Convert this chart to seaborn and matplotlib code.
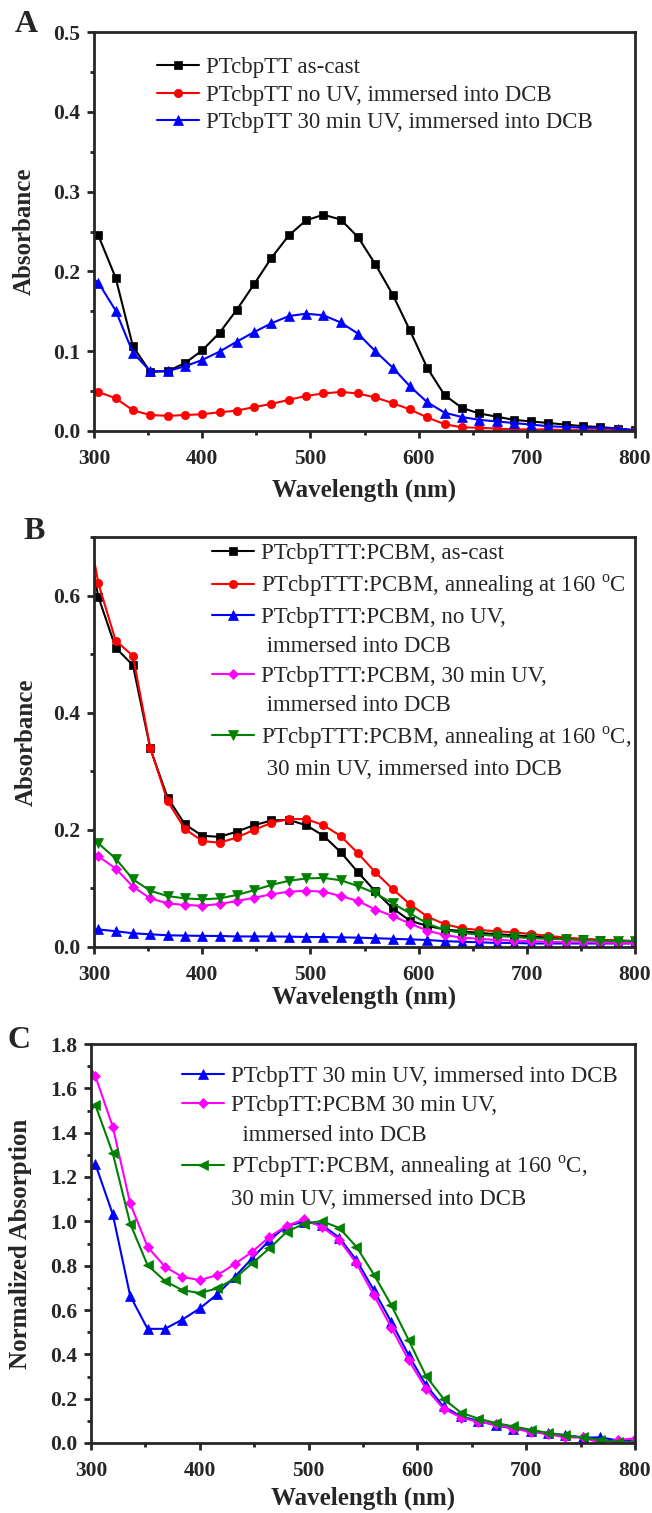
import matplotlib
matplotlib.use("Agg")
import matplotlib.pyplot as plt
import seaborn as sns
from matplotlib.lines import Line2D
from matplotlib.ticker import MultipleLocator, FormatStrFormatter

# ---------------- data ----------------
wavelength = [300, 304, 320, 336, 352, 368, 384, 400, 416, 432, 448, 464, 480, 496, 512,
              528, 544, 560, 576, 592, 608, 624, 640, 656, 672, 688, 704, 720, 736, 752,
              768, 784, 800]

# Panel A
A_ascast = [0.250, 0.245, 0.192, 0.106, 0.074, 0.075, 0.085, 0.101, 0.123, 0.152, 0.184,
            0.217, 0.245, 0.264, 0.271, 0.265, 0.243, 0.209, 0.171, 0.126, 0.079, 0.045,
            0.029, 0.022, 0.018, 0.014, 0.012, 0.010, 0.008, 0.006, 0.005, 0.003, 0.001]
A_noUV = [0.050, 0.049, 0.041, 0.026, 0.020, 0.019, 0.020, 0.021, 0.0235, 0.0255, 0.030,
          0.034, 0.039, 0.044, 0.047, 0.049, 0.047, 0.042, 0.035, 0.027, 0.017, 0.0085,
          0.0046, 0.004, 0.003, 0.002, 0.002, 0.002, 0.001, 0.001, 0.001, 0.001, 0.000]
A_UV30 = [0.190, 0.186, 0.151, 0.098, 0.075, 0.075, 0.081, 0.089, 0.0995, 0.112, 0.124,
          0.135, 0.144, 0.147, 0.145, 0.136, 0.122, 0.100, 0.0795, 0.056, 0.036, 0.023,
          0.0175, 0.014, 0.012, 0.010, 0.008, 0.006, 0.005, 0.004, 0.004, 0.003, 0.001]
A_labels = [["PTcbpTT as-cast"],
            ["PTcbpTT no UV, immersed into DCB"],
            ["PTcbpTT 30 min UV, immersed into DCB"]]

# Panel B
B_ascast = [0.635, 0.598, 0.511, 0.481, 0.339, 0.255, 0.2095, 0.190, 0.188, 0.197, 0.208,
            0.216, 0.217, 0.208, 0.190, 0.162, 0.1275, 0.095, 0.066, 0.045, 0.036, 0.030,
            0.027, 0.024, 0.022, 0.020, 0.018, 0.016, 0.014, 0.013, 0.012, 0.011, 0.010]
B_anneal = [0.662, 0.621, 0.523, 0.497, 0.340, 0.249, 0.2015, 0.181, 0.178, 0.187, 0.200,
            0.212, 0.2185, 0.2185, 0.208, 0.1895, 0.160, 0.1275, 0.099, 0.073, 0.052, 0.039,
            0.032, 0.029, 0.027, 0.025, 0.022, 0.019, 0.016, 0.014, 0.012, 0.011, 0.010]
B_noUV = [0.031, 0.030, 0.027, 0.0234, 0.0217, 0.020, 0.0194, 0.019, 0.0188, 0.018, 0.018,
          0.018, 0.0177, 0.017, 0.017, 0.0165, 0.016, 0.015, 0.014, 0.013, 0.012, 0.010,
          0.009, 0.008, 0.007, 0.007, 0.006, 0.006, 0.006, 0.006, 0.006, 0.006, 0.006]
B_UV30 = [0.160, 0.155, 0.134, 0.103, 0.083, 0.0746, 0.0717, 0.0705, 0.0734, 0.0785, 0.084,
          0.090, 0.0945, 0.096, 0.0945, 0.087, 0.0785, 0.064, 0.053, 0.040, 0.028, 0.0205,
          0.016, 0.014, 0.012, 0.011, 0.010, 0.009, 0.008, 0.008, 0.008, 0.007, 0.007]
B_annealUV = [0.180, 0.177, 0.151, 0.1155, 0.096, 0.087, 0.083, 0.0814, 0.083, 0.0888, 0.097,
              0.106, 0.113, 0.117, 0.118, 0.114, 0.104, 0.0917, 0.0746, 0.0575, 0.040, 0.029,
              0.024, 0.021, 0.019, 0.017, 0.015, 0.014, 0.013, 0.012, 0.011, 0.010, 0.010]
B_labels = [["PTcbpTTT:PCBM, as-cast"],
            [r"PTcbpTTT:PCBM, annealing at 160 $^{\rm o}$C"],
            ["PTcbpTTT:PCBM, no UV,", " immersed into DCB"],
            ["PTcbpTTT:PCBM, 30 min UV,", " immersed into DCB"],
            [r"PTcbpTTT:PCBM, annealing at 160 $^{\rm o}$C,", " 30 min UV, immersed into DCB"]]

# Panel C
C_film = [1.24, 1.258, 1.032, 0.664, 0.515, 0.515, 0.557, 0.607, 0.671, 0.749, 0.8325,
          0.915, 0.980, 0.998, 0.985, 0.927, 0.825, 0.689, 0.546, 0.396, 0.260, 0.165,
          0.12, 0.10, 0.08, 0.065, 0.055, 0.045, 0.035, 0.025, 0.025, 0.012, 0.010]
C_blend = [1.69, 1.655, 1.427, 1.081, 0.885, 0.795, 0.749, 0.735, 0.757, 0.807, 0.862,
           0.930, 0.980, 1.009, 0.975, 0.918, 0.810, 0.667, 0.521, 0.373, 0.245, 0.155,
           0.115, 0.095, 0.084, 0.065, 0.050, 0.040, 0.025, 0.025, 0.000, 0.015, 0.020]
C_anneal = [1.50, 1.525, 1.307, 0.990, 0.802, 0.731, 0.689, 0.677, 0.697, 0.742, 0.810,
            0.878, 0.953, 0.990, 1.001, 0.971, 0.885, 0.760, 0.622, 0.464, 0.301, 0.200,
            0.137, 0.110, 0.090, 0.075, 0.060, 0.045, 0.035, 0.025, 0.015, 0.005, 0.005]
C_labels = [["PTcbpTT 30 min UV, immersed into DCB"],
            ["PTcbpTT:PCBM 30 min UV,", "  immersed into DCB"],
            [r"PTcbpTT:PCBM, annealing at 160 $^{\rm o}$C,", "30 min UV, immersed into DCB"]]

xticks = [300, 400, 500, 600, 700, 800]

# ---------------- style ----------------
sns.set_theme(style="ticks")
plt.rcParams["font.family"] = ["Liberation Serif", "DejaVu Serif"]
plt.rcParams["mathtext.fontset"] = "custom"
plt.rcParams["mathtext.rm"] = "Liberation Serif"
plt.rcParams["axes.linewidth"] = 2.0

W, H = 652, 1513
fig = plt.figure(figsize=(W / 100, H / 100), dpi=100)


def ax_rect(l, r, t, b):
    return [l / W, 1 - b / H, (r - l) / W, (b - t) / H]


axA = fig.add_axes(ax_rect(94, 635, 32, 431))
axB = fig.add_axes(ax_rect(94, 635, 537, 947))
axC = fig.add_axes(ax_rect(91, 635, 1044, 1443))

LW = 1.5
MS = 6


def draw(ax, ys, colors, markers, sizes, labels):
    for y, c, m, s, lab in zip(ys, colors, markers, sizes, labels):
        sns.lineplot(x=wavelength, y=y, ax=ax, color=c, marker=m, markersize=s,
                     markeredgecolor=c, markeredgewidth=0.5, linewidth=LW,
                     markevery=list(range(1, len(wavelength))), label=lab[0])


def style(ax, ylim, ymaj, ymin, xlabel_y, ylabel_x, ylabel):
    ax.set_xlim(300, 800)
    ax.set_ylim(*ylim)
    ax.set_xticks(xticks)
    ax.xaxis.set_minor_locator(MultipleLocator(50))
    ax.yaxis.set_major_locator(MultipleLocator(ymaj))
    ax.yaxis.set_minor_locator(MultipleLocator(ymin))
    ax.yaxis.set_major_formatter(FormatStrFormatter("%.1f"))
    ax.tick_params(which="major", direction="out", length=5, width=2,
                   labelsize=15.5, top=False, right=False)
    ax.tick_params(which="minor", direction="out", length=3, width=2,
                   top=False, right=False)
    ax.tick_params(axis="x", which="major", pad=8)
    ax.tick_params(axis="y", which="major", pad=5)
    for lab in ax.get_xticklabels() + ax.get_yticklabels():
        lab.set_fontweight("bold")
    for sp in ax.spines.values():
        sp.set_visible(True)
        sp.set_linewidth(2)
    ax.set_xlabel("Wavelength (nm)", fontsize=18, fontweight="bold")
    ax.set_ylabel(ylabel, fontsize=18, fontweight="bold")
    ax.xaxis.set_label_coords(0.5, xlabel_y)
    ax.yaxis.set_label_coords(ylabel_x, 0.5)


def legend(ax, labels, anchor, spacing):
    handles, _ = ax.get_legend_handles_labels()
    hh, ll = [], []
    for h, lab in zip(handles, labels):
        hh.append(h)
        ll.append(lab[0])
        for extra in lab[1:]:
            hh.append(Line2D([], [], linestyle="none", marker=None))
            ll.append(extra)
    ax.legend(hh, ll, loc="upper left", bbox_to_anchor=anchor, frameon=False,
              fontsize=16.5, handlelength=1.85, handletextpad=0.3, borderpad=0,
              borderaxespad=0, labelspacing=spacing)


# Panel A
draw(axA, [A_ascast, A_noUV, A_UV30], ["black", "#ff0000", "#0000ff"],
     ["s", "o", "^"], [MS, MS, MS + 1], A_labels)
style(axA, (0, 0.5), 0.1, 0.05, -0.118, -0.108, "Absorbance")
legend(axA, A_labels, (0.1165, 0.937), 0.28)

# Panel B
draw(axB, [B_ascast, B_anneal, B_noUV, B_UV30, B_annealUV],
     ["black", "#ff0000", "#0000ff", "#ff00ff", "#008000"],
     ["s", "o", "^", "D", "v"], [MS, MS, MS + 1, MS - 1, MS + 1], B_labels)
style(axB, (0, 0.7), 0.2, 0.1, -0.095, -0.104, "Absorbance")
legend(axB, B_labels, (0.218, 0.985), 0.36)

# Panel C
draw(axC, [C_film, C_blend, C_anneal], ["#0000ff", "#ff00ff", "#008000"],
     ["^", "D", "<"], [MS + 1, MS - 1, MS + 1], C_labels)
style(axC, (0, 1.8), 0.2, 0.1, -0.108, -0.108, "Normalized Absorption")
legend(axC, C_labels, (0.167, 0.945), 0.36)

# Panel letters
for txt, x, y in [("A", 26, 24), ("B", 34, 532), ("C", 19, 1040)]:
    fig.text(x / W, 1 - y / H, txt, fontsize=23, fontweight="bold",
             ha="center", va="center")

fig.savefig("out.png", dpi=100)
